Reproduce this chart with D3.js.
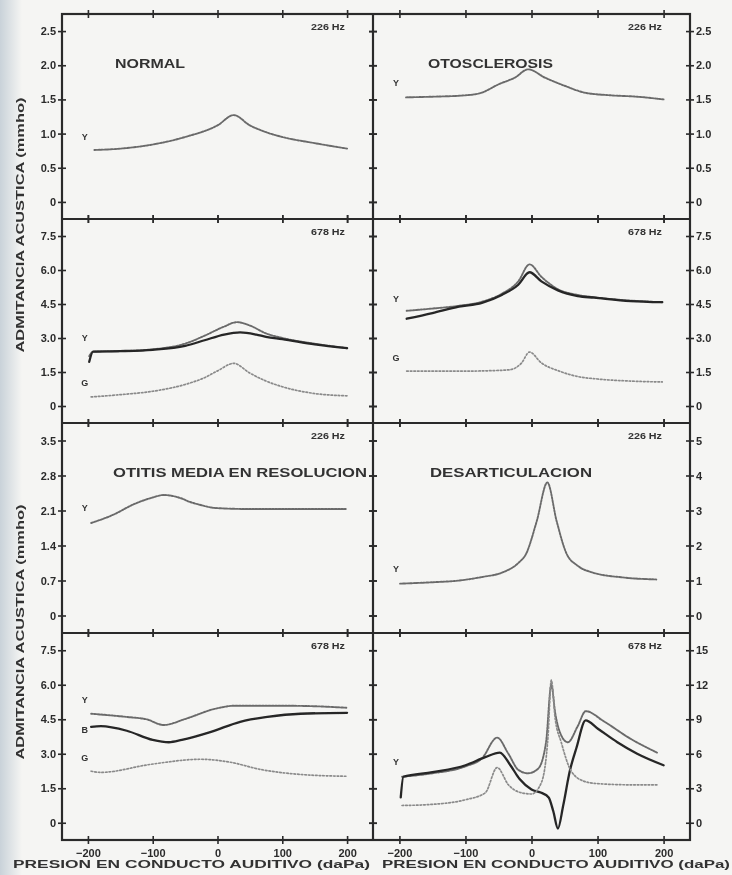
<!DOCTYPE html>
<html>
<head>
<meta charset="utf-8">
<script src="https://cdn.jsdelivr.net/npm/d3@7"></script>
<style>
body { margin: 0; background: #f5f5f3; }
svg { display: block; font-family: "Liberation Sans", Arial, sans-serif; }
</style>
</head>
<body>
<svg id="viz" width="732" height="875"></svg>
<script>
// tick values
var pressureTicks = [-200, -100, 0, 100, 200]
var ticks226 = [0, 0.5, 1, 1.5, 2, 2.5]
var ticks678 = [0, 1.5, 3, 4.5, 6, 7.5]
var ticksOtitis = [0, 0.7, 1.4, 2.1, 2.8, 3.5]
var ticksDesart = [0, 1, 2, 3, 4, 5]
var ticksDesart678 = [0, 3, 6, 9, 12, 15]

var titles = ['NORMAL', 'OTOSCLEROSIS', '', '', 'OTITIS MEDIA EN RESOLUCION', 'DESARTICULACION', '', '']
var freqs = ['226 Hz', '226 Hz', '678 Hz', '678 Hz', '226 Hz', '226 Hz', '678 Hz', '678 Hz']

// series: [pressure daPa, admittance]
var normalY = [[-190,0.76],[-150,0.78],[-100,0.84],[-50,0.95],[0,1.12],[25,1.27],[50,1.12],[75,1.02],[100,0.95],[150,0.86],[200,0.78]]
var otosY = [[-190,1.53],[-150,1.54],[-100,1.56],[-75,1.6],[-50,1.72],[-25,1.82],[-5,1.94],[20,1.82],[50,1.7],[80,1.6],[120,1.56],[160,1.54],[200,1.5]]

var normal678Y = [[-198,2.2],[-192,2.4],[-150,2.42],[-100,2.5],[-50,2.75],[-20,3.1],[10,3.5],[30,3.7],[50,3.55],[75,3.2],[100,3.0],[150,2.75],[200,2.55]]
var normal678B = [[-198,1.95],[-192,2.4],[-150,2.42],[-100,2.48],[-50,2.65],[-20,2.9],[10,3.15],[35,3.25],[60,3.15],[75,3.05],[100,2.95],[150,2.72],[200,2.55]]
var normal678G = [[-195,0.4],[-150,0.5],[-100,0.65],[-50,0.95],[-20,1.25],[0,1.55],[25,1.88],[50,1.45],[75,1.1],[100,0.85],[150,0.55],[200,0.45]]

var otos678Y = [[-189,4.2],[-150,4.3],[-110,4.42],[-75,4.6],[-45,4.95],[-20,5.5],[-3,6.25],[15,5.7],[40,5.15],[70,4.9],[95,4.8],[150,4.65],[198,4.58]]
var otos678B = [[-189,3.85],[-150,4.1],[-110,4.38],[-75,4.55],[-45,4.9],[-20,5.35],[-3,5.9],[15,5.5],[40,5.1],[70,4.85],[95,4.78],[150,4.63],[198,4.58]]
var otos678G = [[-189,1.54],[-150,1.54],[-100,1.54],[-60,1.56],[-33,1.6],[-15,1.9],[-3,2.38],[15,1.9],[42,1.54],[70,1.3],[100,1.19],[150,1.1],[198,1.06]]

var otitisY = [[-195,1.85],[-160,2.02],[-130,2.22],[-100,2.36],[-83,2.41],[-60,2.36],[-40,2.26],[-26,2.21],[-3,2.15],[50,2.13],[120,2.13],[198,2.13]]

var desartY = [[-199,0.91],[-150,0.95],[-109,1.0],[-75,1.1],[-44,1.23],[-20,1.5],[-8,1.77],[8,2.7],[24,3.8],[38,2.7],[53,1.77],[70,1.42],[92,1.23],[137,1.09],[189,1.03]]

var res678Y = [[-195,4.74],[-140,4.6],[-110,4.5],[-83,4.25],[-49,4.52],[-3,4.96],[28,5.09],[80,5.09],[130,5.08],[200,5.0]]
var res678B = [[-195,4.17],[-180,4.2],[-140,4.0],[-100,3.6],[-75,3.5],[-55,3.6],[-10,3.95],[35,4.39],[77,4.6],[128,4.74],[200,4.78]]
var res678G = [[-195,2.24],[-180,2.19],[-103,2.54],[-26,2.76],[20,2.63],[66,2.32],[128,2.1],[200,2.02]]

var desart678Y = [[-196,4.0],[-150,4.3],[-100,4.9],[-75,5.6],[-52,7.4],[-35,6.0],[-20,4.6],[-5,4.3],[10,4.7],[22,7.0],[30,12.0],[36,9.5],[45,7.6],[55,7.0],[70,8.4],[82,9.7],[110,8.8],[150,7.3],[190,6.1]]
var desart678B = [[-198,2.2],[-194,4.0],[-150,4.4],[-100,5.0],[-70,5.7],[-48,6.1],[-32,5.0],[-18,3.8],[0,2.9],[15,2.6],[26,2.2],[33,1.0],[40,-0.5],[48,1.5],[58,4.5],[68,6.5],[82,8.9],[100,8.2],[130,7.0],[160,6.0],[200,5.0]]
var desart678G = [[-196,1.5],[-150,1.6],[-100,2.0],[-70,2.6],[-52,4.8],[-35,3.3],[-15,2.6],[0,2.5],[15,3.5],[25,7.5],[30,12.4],[36,9.0],[45,7.0],[60,4.5],[80,3.6],[100,3.4],[150,3.3],[190,3.3]]

// letter tags near curve start: [letter, value]
var normalTags = [['Y', 0.9]]
var otosTags = [['Y', 1.7]]
var normal678Tags = [['Y', 2.85], ['G', 0.9]]
var otos678Tags = [['Y', 4.6], ['G', 2.0]]
var otitisTags = [['Y', 2.1]]
var desartTags = [['Y', 1.25]]
var res678Tags = [['Y', 5.2], ['B', 3.9], ['G', 2.7]]
var desart678Tags = [['Y', 5.0]]

var seriesStyle = {
  Y: {color: '#6a6a6a', width: 1.9, dash: '2,1.3'},
  B: {color: '#262626', width: 2.3, dash: null},
  G: {color: '#8a8a8a', width: 1.7, dash: '1.6,2'}
}

var panels = [
  {ticks: ticks226, series: [['Y', normalY]], tags: normalTags},
  {ticks: ticks226, series: [['Y', otosY]], tags: otosTags},
  {ticks: ticks678, series: [['Y', normal678Y], ['B', normal678B], ['G', normal678G]], tags: normal678Tags},
  {ticks: ticks678, series: [['Y', otos678Y], ['B', otos678B], ['G', otos678G]], tags: otos678Tags},
  {ticks: ticksOtitis, series: [['Y', otitisY]], tags: otitisTags},
  {ticks: ticksDesart, series: [['Y', desartY]], tags: desartTags},
  {ticks: ticks678, series: [['Y', res678Y], ['B', res678B], ['G', res678G]], tags: res678Tags},
  {ticks: ticksDesart678, series: [['Y', desart678Y], ['B', desart678B], ['G', desart678G]], tags: desart678Tags}
]

var colX = [[62, 373], [373, 690]]
var rowY = [14, 219, 423, 633, 840]

var svg = d3.select('svg#viz')

var defs = svg.append('defs')
defs.append('filter').attr('id', 'soft')
  .append('feGaussianBlur').attr('stdDeviation', 0.45)
var grad = defs.append('linearGradient').attr('id', 'edge')
grad.append('stop').attr('offset', '0%').attr('stop-color', '#c9d2d9')
grad.append('stop').attr('offset', '100%').attr('stop-color', '#f5f5f3')

svg.append('rect').attr('width', 732).attr('height', 875).attr('fill', '#f5f5f3')
svg.append('rect').attr('width', 22).attr('height', 875).attr('fill', 'url(#edge)')

var chart = svg.append('g').attr('filter', 'url(#soft)')

function fmt(v, ticks) {
  if (v == 0) return '0'
  return Number.isInteger(ticks[1]) ? String(v) : v.toFixed(1)
}

panels.forEach((p, i) => {
  var col = i % 2, row = Math.floor(i / 2)
  var step = p.ticks[1]
  var x = d3.scaleLinear().domain([-240, 240]).range(colX[col])
  var y = d3.scaleLinear().domain([-step / 2, p.ticks[5] + step / 2]).range([rowY[row + 1], rowY[row]])

  var g = chart.append('g')

  // y ticks crossing the frame, labels on the outside
  var outer = col == 0 ? colX[0][0] : colX[1][1]
  var inner = col == 0 ? colX[0][1] : colX[1][0]
  var axOut = col == 0 ? d3.axisLeft : d3.axisRight
  var axOut2 = col == 0 ? d3.axisRight : d3.axisLeft

  g.append('g').attr('transform', `translate(${outer},0)`)
    .call(axOut(y).tickValues(p.ticks).tickSize(4).tickPadding(2).tickFormat(d => fmt(d, p.ticks)))
  g.append('g').attr('transform', `translate(${outer},0)`)
    .call(axOut2(y).tickValues(p.ticks).tickSize(4).tickFormat(''))
  g.append('g').attr('transform', `translate(${inner},0)`)
    .call(d3.axisLeft(y).tickValues(p.ticks).tickSize(4).tickFormat(''))
  g.append('g').attr('transform', `translate(${inner},0)`)
    .call(d3.axisRight(y).tickValues(p.ticks).tickSize(4).tickFormat(''))

  // x ticks on top and bottom of the row
  ;[rowY[row], rowY[row + 1]].forEach(yy => {
    g.append('g').attr('transform', `translate(0,${yy})`)
      .call(d3.axisTop(x).tickValues(pressureTicks).tickSize(4).tickFormat(''))
    g.append('g').attr('transform', `translate(0,${yy})`)
      .call(d3.axisBottom(x).tickValues(pressureTicks).tickSize(4).tickFormat(''))
  })

  if (row == 3) {
    g.append('g').attr('transform', `translate(0,${rowY[4]})`)
      .call(d3.axisBottom(x).tickValues(pressureTicks).tickSize(0).tickPadding(9).tickFormat(d3.format('d')))
  }

  g.selectAll('.domain').remove()
  g.selectAll('.tick line').attr('stroke', '#2b2b2b').attr('stroke-width', 1.6)
  g.selectAll('.tick text').attr('fill', '#2b2b2b').attr('font-size', 11).attr('font-weight', 'bold')

  var line = d3.line()
    .x(d => x(d[0]))
    .y(d => y(d[1]))
    .curve(d3.curveMonotoneX)

  p.series.forEach(s => {
    var st = seriesStyle[s[0]]
    g.append('path')
      .datum(s[1])
      .attr('d', line)
      .attr('fill', 'none')
      .attr('stroke', st.color)
      .attr('stroke-width', st.width)
      .attr('stroke-dasharray', st.dash)
      .attr('stroke-linecap', 'round')
  })

  p.tags.forEach(t => {
    g.append('text')
      .attr('x', x(-205)).attr('y', y(t[1]))
      .attr('text-anchor', 'middle')
      .attr('font-size', 9).attr('font-weight', 'bold').attr('fill', '#333')
      .text(t[0])
  })

  // frequency label
  g.append('text')
    .attr('x', colX[col][1] - 28).attr('y', rowY[row] + 16)
    .attr('text-anchor', 'end')
    .attr('font-size', 9).attr('font-weight', 'bold').attr('fill', '#333')
    .attr('textLength', 34).attr('lengthAdjust', 'spacingAndGlyphs')
    .text(freqs[i])

  if (titles[i]) {
    var tx = {0: 115, 1: 428, 4: 113, 5: 430}[i]
    var tl = {0: 70, 1: 125, 4: 254, 5: 162}[i]
    g.append('text')
      .attr('x', tx).attr('y', rowY[row] + 54)
      .attr('font-size', 13).attr('font-weight', 'bold').attr('fill', '#333')
      .attr('textLength', tl).attr('lengthAdjust', 'spacingAndGlyphs')
      .text(titles[i])
  }
})

// frame
var frame = chart.append('g').attr('stroke', '#2b2b2b').attr('stroke-width', 2.2).attr('fill', 'none')
frame.append('rect').attr('x', 62).attr('y', 14).attr('width', 628).attr('height', 826)
frame.append('line').attr('x1', 373).attr('x2', 373).attr('y1', 14).attr('y2', 840)
rowY.slice(1, 4).forEach(yy => {
  frame.append('line').attr('x1', 62).attr('x2', 690).attr('y1', yy).attr('y2', yy)
})

// axis titles
;[225, 632].forEach(cy => {
  chart.append('text')
    .attr('transform', `translate(24,${cy}) rotate(-90)`)
    .attr('text-anchor', 'middle')
    .attr('font-size', 10).attr('font-weight', 'bold').attr('fill', '#333')
    .attr('textLength', 255).attr('lengthAdjust', 'spacingAndGlyphs')
    .text('ADMITANCIA ACUSTICA (mmho)')
})

;[[13, 357], [382, 348]].forEach(d => {
  chart.append('text')
    .attr('x', d[0]).attr('y', 868)
    .attr('font-size', 10).attr('font-weight', 'bold').attr('fill', '#333')
    .attr('textLength', d[1]).attr('lengthAdjust', 'spacingAndGlyphs')
    .text('PRESION EN CONDUCTO AUDITIVO (daPa)')
})
</script>
</body>
</html>
